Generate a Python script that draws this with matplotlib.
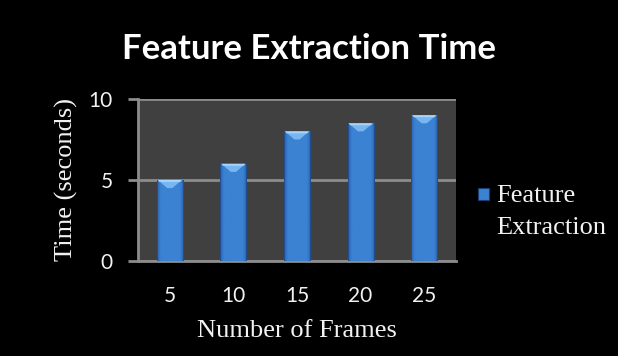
import numpy as np
import matplotlib
matplotlib.use('Agg')
import matplotlib.pyplot as plt
from matplotlib.patches import Polygon, Rectangle

# data
frames = ['5', '10', '15', '20', '25']
times = [5, 6, 8, 8.5, 9]
series_name = 'Feature\nExtraction'

fig = plt.figure(figsize=(6.18, 3.56), dpi=100)
fig.patch.set_facecolor('black')
ax = fig.add_axes([0.2233, 0.2669, 0.5146, 0.455])
ax.set_facecolor('#404040')

x = np.arange(len(frames))
w = 0.41

# horizontal shading: dark rims, bright flat middle
grad = np.linspace(0, 1, 64)
shade = np.clip(np.minimum(grad, 1 - grad) / 0.14, 0, 1) ** 0.6
cmap = matplotlib.colors.LinearSegmentedColormap.from_list(
    'bar', ['#1b3f70', '#2f6cbc', '#3b82d2'])

bars = ax.bar(x, times, width=w, color='#3b82d2', zorder=3)
for b, v in zip(bars, times):
    x0 = b.get_x()
    im = ax.imshow(shade[None, :], cmap=cmap, aspect='auto',
                   extent=[x0, x0 + w, 0, v], zorder=3, vmin=0, vmax=1)
    im.set_clip_path(b)
    b.set_facecolor('none')
    # bevelled top cap
    ax.add_patch(Polygon([[x0 + w * 0.04, v], [x0 + w * 0.96, v],
                          [x0 + w * 0.6, v - 0.5], [x0 + w * 0.4, v - 0.5]],
                         closed=True, facecolor='#79b5ee', edgecolor='none', zorder=4))
    ax.add_patch(Polygon([[x0 + w * 0.04, v], [x0 + w * 0.96, v],
                          [x0 + w * 0.9, v - 0.12], [x0 + w * 0.1, v - 0.12]],
                         closed=True, facecolor='#a6d4fa', edgecolor='none', zorder=4))

ax.set_xlim(-0.5, len(frames) - 0.5)
ax.set_ylim(0, 10)
ax.set_yticks([0, 5, 10])
ax.set_xticks(x)
ax.set_xticklabels(frames)
ax.yaxis.grid(True, color='#8c8c8c', linewidth=2, zorder=1)
ax.set_axisbelow(True)

for s in ['top', 'right']:
    ax.spines[s].set_visible(False)
ax.spines['left'].set_color('#8c8c8c')
ax.spines['left'].set_linewidth(2)
ax.spines['bottom'].set_color('#8c8c8c')
ax.spines['bottom'].set_linewidth(2)
ax.tick_params(axis='y', colors='#8c8c8c', length=7, width=2, pad=11)
ax.tick_params(axis='x', length=0, pad=18)

serif = 'Liberation Serif'
for lbl in ax.get_xticklabels() + ax.get_yticklabels():
    lbl.set_fontfamily('Lato')
    lbl.set_fontsize(15)
    lbl.set_color('#f2f2f2')

ax.set_xlabel('Number of Frames', fontfamily=serif, fontsize=19, color='#f2f2f2', labelpad=10)
ax.set_ylabel('Time (seconds)', fontfamily=serif, fontsize=19, color='#f2f2f2', labelpad=8)

fig.text(0.5, 0.862, 'Feature Extraction Time', ha='center', va='center',
         fontfamily='Lato', fontweight='bold', fontsize=25, color='white')

# legend
fig.patches.append(Rectangle((0.773, 0.438), 0.019, 0.033, transform=fig.transFigure,
                             facecolor='#3b82d2', edgecolor='#1b3f70', linewidth=0.8))
fig.text(0.803, 0.48, series_name, ha='left', va='top', fontfamily=serif,
         fontsize=19, color='#f2f2f2', linespacing=1.58, transform=fig.transFigure)

fig.savefig('out.png', dpi=100, facecolor='black')
